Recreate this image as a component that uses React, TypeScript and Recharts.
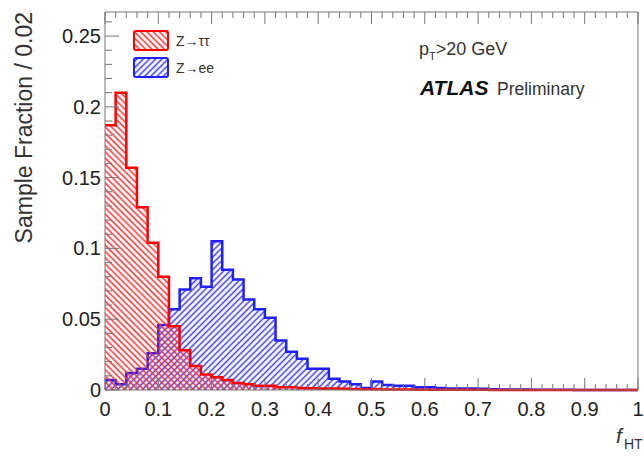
import React from 'react';
import { AreaChart, Area, XAxis, YAxis } from 'recharts';

// lower edges of the f_HT bins (bin width 0.02)
const binLow: number[] = Array.from({ length: 50 }, (_, i) => +(i * 0.02).toFixed(2));

// Z->tautau sample fraction per bin
const tauValues: number[] = [
  0.187, 0.210, 0.157, 0.129, 0.104, 0.080, 0.045, 0.028, 0.017, 0.011,
  0.009, 0.007, 0.005, 0.004, 0.003, 0.003, 0.002, 0.002, 0.0015, 0.0012,
  0.001, 0.001, 0.0008, 0.0007, 0.0006, 0.0005, 0.0004, 0.0003, 0.0003, 0.0002,
  0.0002, 0.0002, 0.0001, 0.0001, 0.0001, 0.0001, 0, 0, 0, 0,
  0, 0, 0, 0, 0, 0, 0, 0, 0, 0,
];

// Z->ee sample fraction per bin
const eeValues: number[] = [
  0.007, 0.004, 0.012, 0.015, 0.026, 0.046, 0.057, 0.071, 0.079, 0.073,
  0.105, 0.085, 0.078, 0.064, 0.057, 0.051, 0.035, 0.027, 0.022, 0.015,
  0.015, 0.008, 0.006, 0.004, 0.0015, 0.006, 0.0035, 0.003, 0.003, 0.002,
  0.002, 0.0015, 0.001, 0.001, 0.001, 0.0008, 0.0005, 0.0004, 0.0003, 0.0003,
  0.0002, 0.0002, 0.0001, 0.0001, 0, 0, 0, 0, 0, 0,
];

const xMajor: number[] = [0, 0.1, 0.2, 0.3, 0.4, 0.5, 0.6, 0.7, 0.8, 0.9, 1];
const xLabels: string[] = ['0', '0.1', '0.2', '0.3', '0.4', '0.5', '0.6', '0.7', '0.8', '0.9', '1'];
const yMajor: number[] = [0, 0.05, 0.1, 0.15, 0.2, 0.25];
const yLabels: string[] = ['0', '0.05', '0.1', '0.15', '0.2', '0.25'];

const xTicks = Array.from({ length: 51 }, (_, i) => +(i * 0.02).toFixed(2));
const yTicks = Array.from({ length: 27 }, (_, i) => +(i * 0.01).toFixed(2));

const data = [
  ...binLow.map((x, i) => ({ x, tau: tauValues[i], ee: eeValues[i] })),
  { x: 1, tau: tauValues[49], ee: eeValues[49] },
];

const FONT = '"Liberation Sans", Arial, Helvetica, sans-serif';
const AXIS = '#777';
const TXT = '#222';

const near = (a: number, b: number) => Math.abs(a - b) < 1e-6;
const majorIdx = (v: number, list: number[]) => list.findIndex(m => near(m, v));

const BottomTick = (props: any) => {
  const { x, y, payload } = props;
  const idx = majorIdx(payload.value, xMajor);
  const len = idx >= 0 ? 12 : 6;
  return (
    <g>
      <line x1={x} x2={x} y1={y} y2={y - len} stroke={AXIS} />
      {idx >= 0 && (
        <text x={x} y={y + 26} textAnchor="middle" fontSize={20} fontFamily={FONT} fill={TXT}>
          {xLabels[idx]}
        </text>
      )}
    </g>
  );
};

const TopTick = (props: any) => {
  const { x, y, payload } = props;
  const len = majorIdx(payload.value, xMajor) >= 0 ? 12 : 6;
  return <line x1={x} x2={x} y1={y} y2={y + len} stroke={AXIS} />;
};

const LeftTick = (props: any) => {
  const { x, y, payload } = props;
  const idx = majorIdx(payload.value, yMajor);
  const len = idx >= 0 ? 14 : 7;
  return (
    <g>
      <line x1={x} x2={x + len} y1={y} y2={y} stroke={AXIS} />
      {idx >= 0 && (
        <text x={x - 4} y={y + 7} textAnchor="end" fontSize={20} fontFamily={FONT} fill={TXT}>
          {yLabels[idx]}
        </text>
      )}
    </g>
  );
};

const RightTick = (props: any) => {
  const { x, y, payload } = props;
  const len = majorIdx(payload.value, yMajor) >= 0 ? 14 : 7;
  return <line x1={x} x2={x - len} y1={y} y2={y} stroke={AXIS} />;
};

const Hatches = ({ suffix }: { suffix: string }) => (
  <defs>
    <pattern id={`hatchRed${suffix}`} patternUnits="userSpaceOnUse" width={4.4} height={4.4} patternTransform="rotate(-45)">
      <line x1={2.2} y1={0} x2={2.2} y2={4.4} stroke="#ff2a2a" strokeWidth={1.5} />
    </pattern>
    <pattern id={`hatchBlue${suffix}`} patternUnits="userSpaceOnUse" width={4.4} height={4.4} patternTransform="rotate(45)">
      <line x1={2.2} y1={0} x2={2.2} y2={4.4} stroke="#3838ff" strokeWidth={1.5} />
    </pattern>
  </defs>
);

const Overlay = () => (
  <svg width={644} height={461} style={{ position: 'absolute', left: 0, top: 0, pointerEvents: 'none' }}>
    <Hatches suffix="L" />
    {/* legend */}
    <rect x={134} y={31} width={34} height={19} rx={2} fill="url(#hatchRedL)" stroke="#ff0000" strokeWidth={2} />
    <text x={176} y={46} fontSize={14} fontFamily={FONT} fill="#333">Z→ττ</text>
    <rect x={134} y={58} width={34} height={19} rx={2} fill="url(#hatchBlueL)" stroke="#2020ff" strokeWidth={2} />
    <text x={176} y={73} fontSize={14} fontFamily={FONT} fill="#333">Z→ee</text>
    {/* labels */}
    <text x={419} y={55} fontSize={18} fontFamily={FONT} fill="#333">
      p<tspan dy={5} fontSize={11}>T</tspan><tspan dy={-5}>&gt;20 GeV</tspan>
    </text>
    <text x={420} y={95} fontSize={21} fontFamily={FONT} fontWeight="bold" fontStyle="italic" fill="#111">ATLAS</text>
    <text x={497} y={95} fontSize={17.5} fontFamily={FONT} fill="#333">Preliminary</text>
    <text transform="translate(32,12) rotate(-90)" textAnchor="end" fontSize={23} fontFamily={FONT} fill="#333">
      Sample Fraction / 0.02
    </text>
    <text x={616} y={443} fontSize={21} fontStyle="italic" fontFamily={FONT} fill="#333">f</text>
    <text x={624} y={449} fontSize={14} fontFamily={FONT} fill="#333">HT</text>
  </svg>
);

export default function App() {
  return (
    <div style={{ position: 'absolute', left: 0, top: 0, width: 644, height: 461, background: '#fff' }}>
      <AreaChart width={644} height={461} data={data} margin={{ top: 10, right: 4, bottom: 41, left: 45 }}>
        <Hatches suffix="" />
        <XAxis
          dataKey="x"
          type="number"
          domain={[0, 1]}
          ticks={xTicks}
          interval={0}
          height={30}
          tickSize={0}
          tickMargin={0}
          tickLine={false}
          axisLine={{ stroke: AXIS }}
          tick={(p: any) => <BottomTick {...p} />}
        />
        <XAxis
          xAxisId="top"
          orientation="top"
          dataKey="x"
          type="number"
          domain={[0, 1]}
          ticks={xTicks}
          interval={0}
          height={2}
          tickSize={0}
          tickMargin={0}
          tickLine={false}
          axisLine={{ stroke: AXIS }}
          tick={(p: any) => <TopTick {...p} />}
        />
        <YAxis
          type="number"
          domain={[0, 0.267]}
          ticks={yTicks}
          interval={0}
          width={60}
          tickSize={0}
          tickMargin={0}
          tickLine={false}
          axisLine={{ stroke: AXIS }}
          tick={(p: any) => <LeftTick {...p} />}
        />
        <YAxis
          yAxisId="r"
          orientation="right"
          type="number"
          domain={[0, 0.267]}
          ticks={yTicks}
          interval={0}
          width={2}
          tickSize={0}
          tickMargin={0}
          tickLine={false}
          axisLine={{ stroke: AXIS }}
          tick={(p: any) => <RightTick {...p} />}
        />
        <Area
          type="stepAfter"
          dataKey="ee"
          stroke="#2020ff"
          strokeWidth={2.5}
          fill="url(#hatchBlue)"
          fillOpacity={1}
          dot={false}
          activeDot={false}
          isAnimationActive={false}
        />
        <Area
          type="stepAfter"
          dataKey="tau"
          stroke="#ff0000"
          strokeWidth={2.5}
          fill="url(#hatchRed)"
          fillOpacity={1}
          dot={false}
          activeDot={false}
          isAnimationActive={false}
        />
      </AreaChart>
      <Overlay />
    </div>
  );
}
